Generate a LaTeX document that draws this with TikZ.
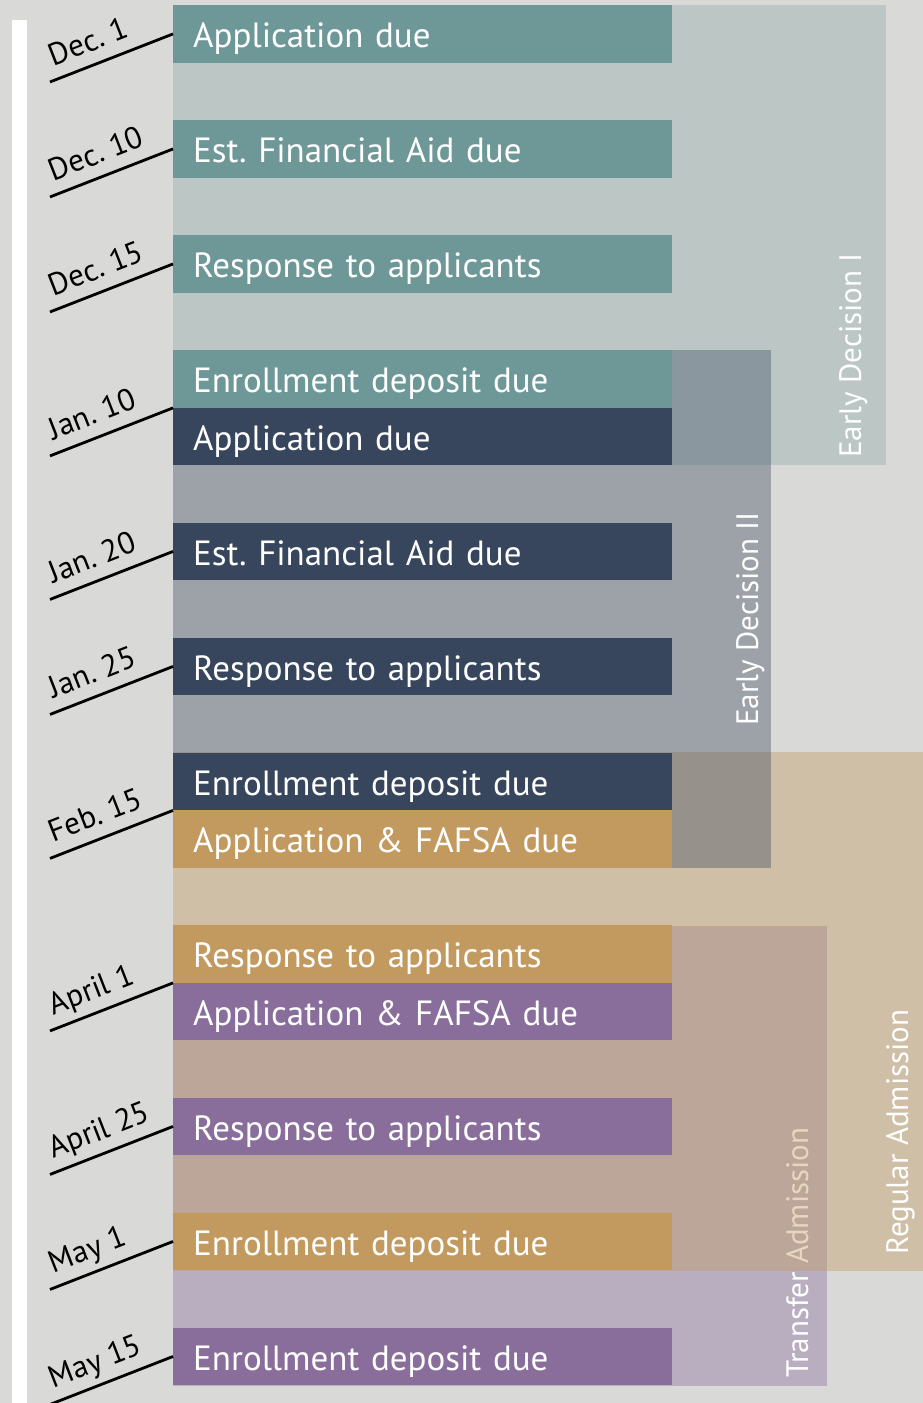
\documentclass[tikz,border=0pt]{standalone}
\usepackage{fontspec}
\setmainfont{PT Sans}
\frenchspacing

\definecolor{paper}{RGB}{217,217,215}
\definecolor{edteal}{RGB}{110,152,151}
\definecolor{ednavy}{RGB}{55,70,92}
\definecolor{regold}{RGB}{194,154,96}
\definecolor{trpurple}{RGB}{137,110,155}

\tikzset{
  bar/.style={anchor=north west, minimum width=499pt, minimum height=57.5pt,
    text width=459pt, inner xsep=20pt, inner ysep=0pt, align=left, text=white,
    text height=28pt, text depth=0pt, font=\fontsize{35}{40}\selectfont},
  grouplabel/.style={rotate=90, anchor=base west, inner sep=0pt, text=white,
    font=\fontsize{31}{36}\selectfont},
  dateline/.style={line width=2.8pt, black},
  datelabel/.style={sloped, pos=0, anchor=south west, inner xsep=8pt,
    inner ysep=12pt, text depth=0pt, font=\fontsize{31}{34}\selectfont}
}

\begin{document}
\begin{tikzpicture}[x=1pt, y=-1pt]
\useasboundingbox (0,0) rectangle (923,1403);
\fill[paper] (0,0) rectangle (923,1403);
\fill[white] (12,20) rectangle (27,1403);

% admission periods
\fill[edteal, fill opacity=.27] (173,5) rectangle (886,465);
\node[grouplabel] (edI) at (861,458) {Early Decision I};
\fill[trpurple, fill opacity=.4] (173,926) rectangle (827,1386);
\node[grouplabel] (trans) at (808,1378) {Transfer Admission};
\fill[regold, fill opacity=.4] (173,752) rectangle (923,1271);
\node[grouplabel] (reg) at (908,1255) {Regular Admission};
\fill[ednavy, fill opacity=.37] (173,350) rectangle (771,868);
\node[grouplabel] (edII) at (758,726) {Early Decision II};

% deadlines
\foreach \n/\y/\c/\t in {1/5/edteal/Application due,
    2/120/edteal/Est. Financial Aid due,
    3/235/edteal/Response to applicants,
    4/350/edteal/Enrollment deposit due,
    5/407.5/ednavy/Application due,
    6/522.5/ednavy/Est. Financial Aid due,
    7/637.5/ednavy/Response to applicants,
    8/752.5/ednavy/Enrollment deposit due,
    9/810/regold/Application \& FAFSA due,
    10/925/regold/Response to applicants,
    11/982.5/trpurple/Application \& FAFSA due,
    12/1097.5/trpurple/Response to applicants,
    13/1212.5/regold/Enrollment deposit due,
    14/1327.5/trpurple/Enrollment deposit due}
  \node[bar, fill=\c] (b\n) at (173,\y) {\t};

% dates
\foreach \d/\a [count=\i] in {Dec. 1/b1.west, Dec. 10/b2.west,
    Dec. 15/b3.west, Jan. 10/b4.south west, Jan. 20/b6.west,
    Jan. 25/b7.west, Feb. 15/b8.south west, April 1/b10.south west,
    April 25/b12.west, May 1/b13.west, May 15/b14.west}
{
  \coordinate (s\i) at ([shift={(-123,48)}]\a);
  \draw[dateline] (s\i) -- (\a) node[datelabel] (d\i) {\d};
}
\end{tikzpicture}
\end{document}
